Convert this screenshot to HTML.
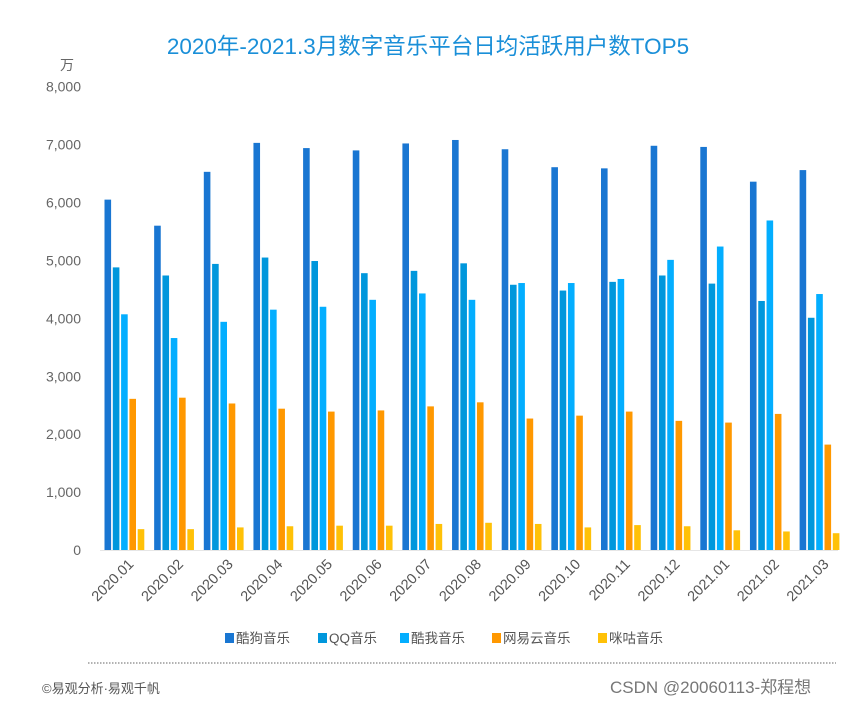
<!DOCTYPE html>
<html><head><meta charset="utf-8"><style>
body{margin:0;background:#fff;font-family:"Liberation Sans","Noto Sans CJK SC",sans-serif;}
#wrap{position:relative;width:857px;height:703px;overflow:hidden;}
svg text{font-family:"Liberation Sans","Noto Sans CJK SC",sans-serif;}
</style></head><body>
<div id="wrap">
<svg id="chart" width="857" height="703">
<text x="428" y="54" text-anchor="middle" font-size="22.5" fill="#1a8fd8">2020年-2021.3月数字音乐平台日均活跃用户数TOP5</text>
<text x="67" y="70" text-anchor="middle" font-size="14" fill="#666">万</text>
<g id="yaxis"></g>
<g id="bars"></g>
<g id="xaxis"></g>
<g id="legend"></g>
<line x1="88" y1="663" x2="836" y2="663" stroke="#999" stroke-width="1.5" stroke-dasharray="1.5,1.5"/>
<text x="42" y="693" font-size="13" fill="#555">©易观分析·易观千帆</text>
<text x="610" y="693" font-size="17" fill="#777">CSDN @20060113-郑程想</text>
</svg>
</div>
<script>
const categories=["2020.01","2020.02","2020.03","2020.04","2020.05","2020.06","2020.07","2020.08","2020.09","2020.10","2020.11","2020.12","2021.01","2021.02","2021.03"];
const seriesNames=["酷狗音乐","QQ音乐","酷我音乐","网易云音乐","咪咕音乐"];
const kugou=[6050,5600,6530,7030,6940,6900,7020,7080,6920,6610,6590,6980,6960,6360,6560];
const qq=[4880,4740,4940,5050,4990,4780,4820,4950,4580,4480,4630,4740,4600,4300,4010];
const kuwo=[4070,3660,3940,4150,4200,4320,4430,4320,4610,4610,4680,5010,5240,5690,4420];
const netease=[2610,2630,2530,2440,2390,2410,2480,2550,2270,2320,2390,2230,2200,2350,1820];
const migu=[360,360,390,410,420,420,450,470,450,390,430,410,340,320,290];
const yTicks=[0,1000,2000,3000,4000,5000,6000,7000,8000];
const yTickLabels=["0","1,000","2,000","3,000","4,000","5,000","6,000","7,000","8,000"];
const colors=["#1976d2","#0097dc","#03aeff","#ff9800","#ffc107"];
const series=[kugou,qq,kuwo,netease,migu];
const NS="http://www.w3.org/2000/svg";
function y(v){return 550-v*(463.3/8000);}
function gx(i){return 104.5+i*49.65;}
const step=8.3,bw=6.6;
function mk(t,a,p){const e=document.createElementNS(NS,t);for(const k in a)e.setAttribute(k,a[k]);p.appendChild(e);return e;}
const ya=document.getElementById('yaxis');
yTicks.forEach((v,i)=>{const t=mk('text',{x:81,y:y(v)+5,'text-anchor':'end','font-size':14,fill:'#666'},ya);


t.textContent=yTickLabels[i];});
const bl=mk('line',{x1:100,y1:550.5,x2:838,y2:550.5,stroke:'#e6e6e6','stroke-width':1},ya);


const bg=document.getElementById('bars');
series.forEach((s,si)=>{s.forEach((v,i)=>{const r=mk('rect',{x:gx(i)+si*step,y:y(v),width:bw,height:550-y(v),fill:colors[si]},bg);

});});
const xa=document.getElementById('xaxis');
categories.forEach((c,i)=>{const cx=gx(i)+26;const t=mk('text',{x:cx+4,y:565,'text-anchor':'end','font-size':14.5,fill:'#555',transform:'rotate(-45 '+(cx+4)+' 565)'},xa);


t.textContent=c;});
const lg=document.getElementById('legend');
const lx=[225,318,400,492,598];
seriesNames.forEach((n,i)=>{const g=mk('g',{},lg);


mk('rect',{x:lx[i],y:633,width:9,height:10,fill:colors[i]},g);
const t=mk('text',{x:lx[i]+11,y:643,'font-size':13.5,fill:'#555'},g);t.textContent=n;});
</script>
</body></html>
